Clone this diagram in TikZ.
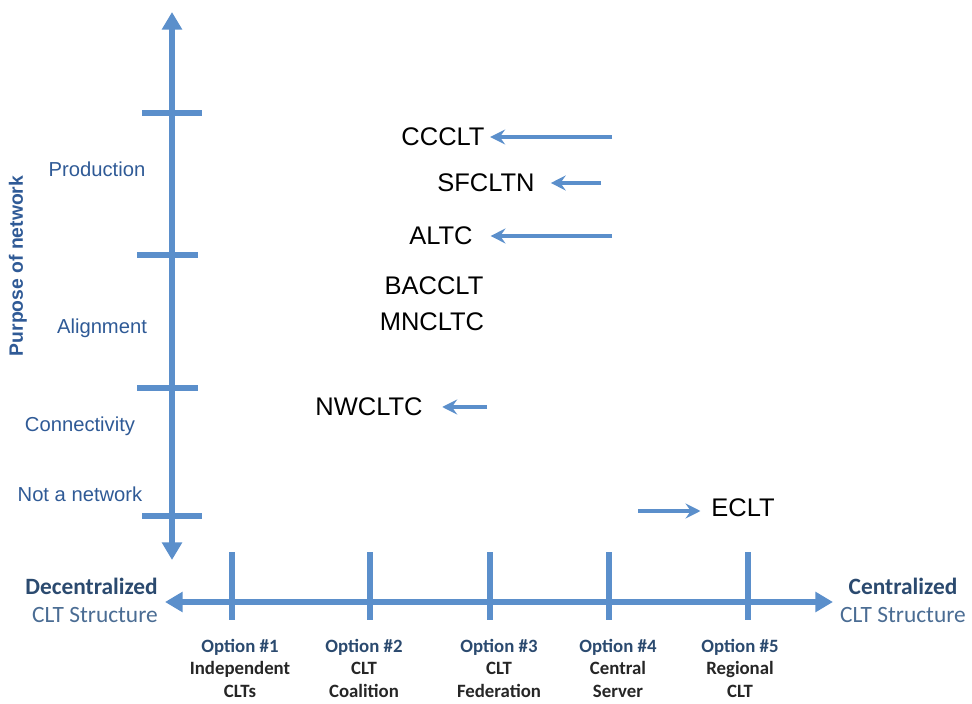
\documentclass[tikz,border=0pt]{standalone}
\usepackage{fontspec}
\setmainfont{Liberation Sans}
\newfontfamily\optfont{Carlito}
\usepackage{tikz}
\usetikzlibrary{arrows.meta}
\definecolor{axisblue}{HTML}{5B8FCB}
\definecolor{levelblue}{HTML}{2F5A96}
\definecolor{navy}{HTML}{2B4A6F}
\definecolor{structblue}{HTML}{4A6C93}
\tikzset{axis/.style={draw=axisblue,line width=3.2pt,{Triangle[length=10pt,width=11pt]}-{Triangle[length=10pt,width=11pt]}}}
\tikzset{tick/.style={draw=axisblue,line width=3.2pt}}
\tikzset{level/.style={text=levelblue,font=\fontsize{11.5}{14}\selectfont}}
\tikzset{clt/.style={inner sep=2pt,font=\fontsize{14.5}{17}\selectfont}}
\tikzset{pointer/.style={draw=axisblue,line width=1.8pt,-{Stealth[length=8.5pt,width=8.5pt,inset=3pt]}}}
\tikzset{option/.style={align=center,text=black!85,font=\optfont\bfseries\fontsize{10.7}{12.8}\selectfont}}
\tikzset{pole/.style={font=\optfont\fontsize{13.3}{15.5}\selectfont}}

\begin{document}
\begin{tikzpicture}
    \useasboundingbox (0,0) rectangle (19.44,14.06);
    \coordinate (ytop) at (3.44,13.82);
    \coordinate (ybot) at (3.44,2.86);
    \coordinate (xleft) at (3.3,2.02);
    \coordinate (xright) at (16.66,2.02);
    \draw[tick] (2.84,11.8) -- (4.04,11.8);
    \draw[tick] (2.74,8.96) -- (3.96,8.96);
    \draw[tick] (2.74,6.3) -- (3.96,6.3);
    \draw[tick] (2.84,3.74) -- (4.04,3.74);
    \foreach \x in {4.64,7.4,9.8,12.18,14.96}
      \draw[tick] (\x,3.02) -- (\x,1.66);
    \draw[axis] (ybot) -- (ytop);
    \draw[axis] (xleft) -- (xright);
    \node[level] (prod) at (1.94,10.68) {Production};
    \node[level] (align) at (2.04,7.5) {Alignment};
    \node[level] (conn) at (1.6,5.54) {Connectivity};
    \node[level] (none) at (1.6,4.18) {Not a network};
    \node[level,rotate=90,font=\bfseries\fontsize{11}{13}\selectfont] (purpose) at (0.36,8.74) {Purpose of network};
    \node[pole,align=right,anchor=east] (decent) at (3.28,2.05) {\textcolor{navy}{\bfseries Decentralized}\\\textcolor{structblue}{CLT Structure}};
    \node[pole,align=center] (cent) at (18.06,2.05) {\textcolor{navy}{\bfseries Centralized}\\\textcolor{structblue}{CLT Structure}};
    \node[option] (opt1) at (4.8,0.7) {\textcolor{navy}{Option \#1}\\Independent\\CLTs};
    \node[option] (opt2) at (7.28,0.7) {\textcolor{navy}{Option \#2}\\CLT\\Coalition};
    \node[option] (opt3) at (9.98,0.7) {\textcolor{navy}{Option \#3}\\CLT\\Federation};
    \node[option] (opt4) at (12.36,0.7) {\textcolor{navy}{Option \#4}\\Central\\Server};
    \node[option] (opt5) at (14.8,0.7) {\textcolor{navy}{Option \#5}\\Regional\\CLT};
    \node[clt] (ccclt) at (8.86,11.32) {CCCLT};
    \node[clt] (sfcltn) at (9.72,10.4) {SFCLTN};
    \node[clt] (altc) at (8.82,9.34) {ALTC};
    \node[clt] (bacclt) at (8.68,8.34) {BACCLT};
    \node[clt] (mncltc) at (8.64,7.62) {MNCLTC};
    \node[clt] (nwcltc) at (7.38,5.92) {NWCLTC};
    \node[clt] (eclt) at (14.86,3.9) {ECLT};
    \coordinate (s1) at (12.24,11.32);
    \coordinate (s2) at (12.02,10.4);
    \coordinate (s3) at (12.24,9.34);
    \coordinate (s4) at (9.74,5.92);
    \coordinate (s5) at (12.76,3.84);
    \draw[pointer,shorten >=1pt] (s1) -- (ccclt);
    \draw[pointer,shorten >=7pt] (s2) -- (sfcltn);
    \draw[pointer,shorten >=8pt] (s3) -- (altc);
    \draw[pointer,shorten >=9pt] (s4) -- (nwcltc);
    \draw[pointer,shorten >=4pt] (s5) -- (s5 -| eclt.west);
\end{tikzpicture}
\end{document}
